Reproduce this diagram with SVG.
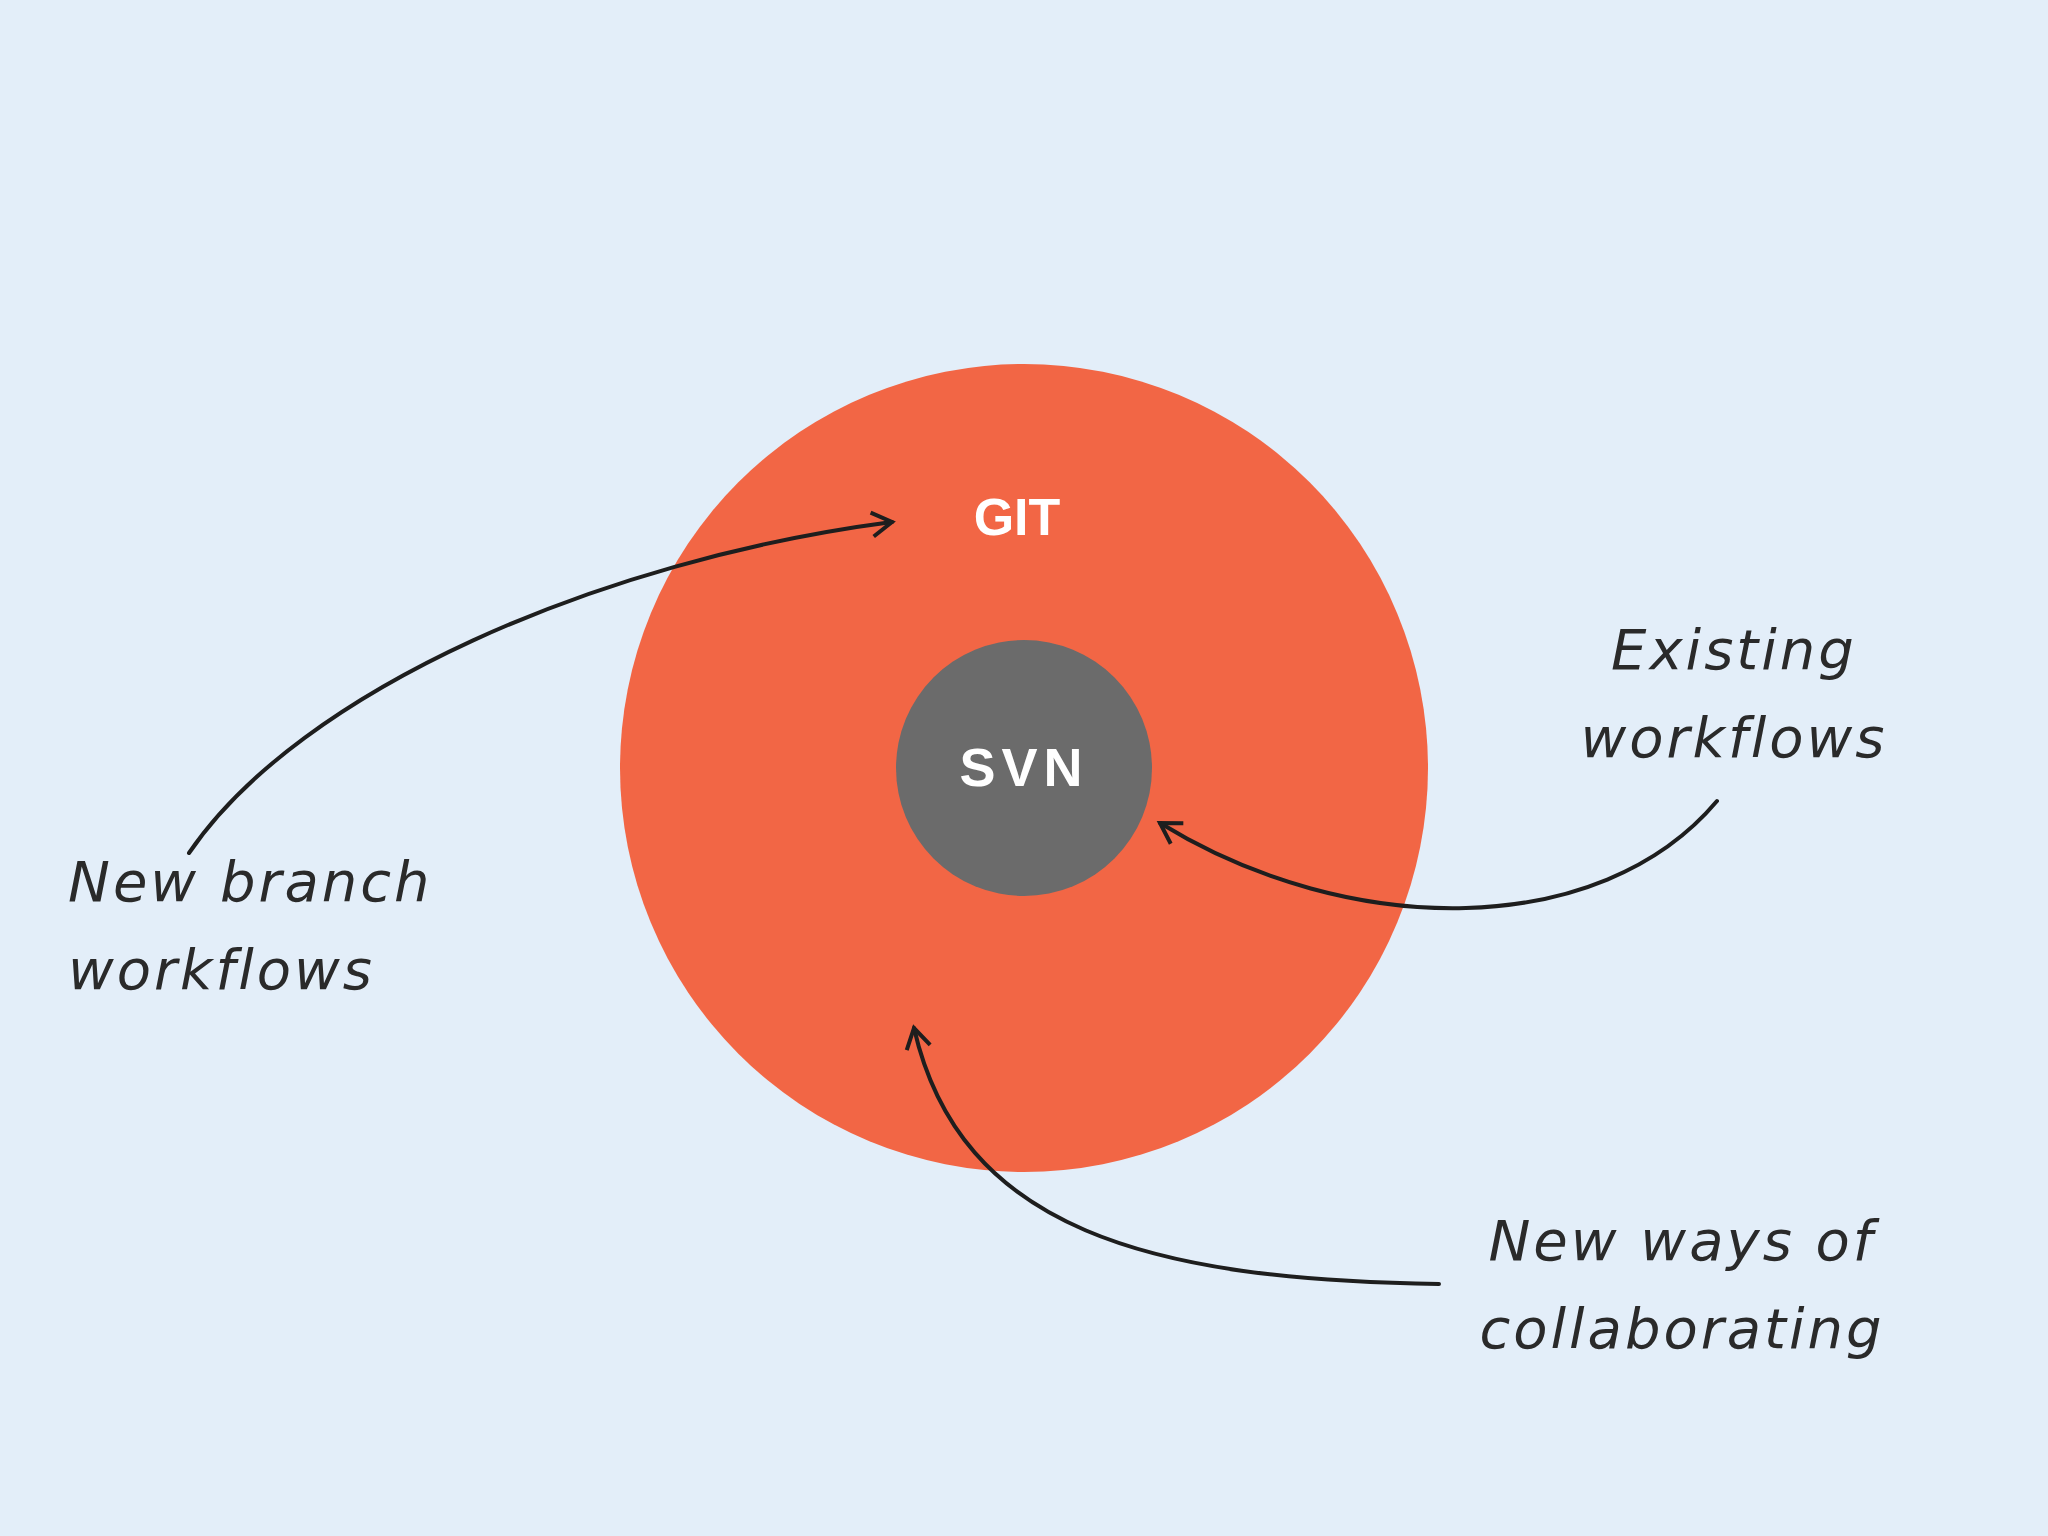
<svg xmlns="http://www.w3.org/2000/svg" width="2048" height="1536" viewBox="0 0 2048 1536">
<style>
.hand{font-family:"Comic Sans MS","DejaVu Sans",sans-serif;font-size:56px;fill:#2a2a2a;font-style:italic;letter-spacing:3px}
.lbl{font-family:"Liberation Sans",Arial,sans-serif;font-weight:bold;fill:#fff}
.arr{fill:none;stroke:#1e1e1e;stroke-width:4;stroke-linecap:round;marker-end:url(#ah)}
</style>
<defs>
<marker id="ah" markerWidth="30" markerHeight="30" refX="24" refY="15" orient="auto" markerUnits="userSpaceOnUse">
<path d="M4,3 L24,15 L4,27" fill="none" stroke="#1e1e1e" stroke-width="4"/>
</marker>
</defs>
<rect width="2048" height="1536" fill="#e3eef9"/>
<g id="git"><circle cx="1024" cy="768" r="404" fill="#f26645"/><text class="lbl" x="1017" y="535" font-size="52" text-anchor="middle">GIT</text></g>
<g id="svn"><circle cx="1024" cy="768" r="128" fill="#6b6b6b"/><text class="lbl" x="1024" y="786" font-size="54" text-anchor="middle" letter-spacing="6">SVN</text></g>
<g id="label-new-branch"><text class="hand" x="68" y="901">New branch</text><text class="hand" x="68" y="989">workflows</text></g>
<g id="label-existing"><text class="hand" x="1734" y="669" text-anchor="middle">Existing</text><text class="hand" x="1734" y="757" text-anchor="middle">workflows</text></g>
<g id="label-collab"><text class="hand" x="1682" y="1260" text-anchor="middle">New ways of</text><text class="hand" x="1682" y="1348" text-anchor="middle">collaborating</text></g>
<g id="connectors">
<path class="arr" d="M189,853 C300,690 600,560 892,522"/>
<path class="arr" d="M1717,801 C1600,940 1350,940 1160,823"/>
<path class="arr" d="M1439,1284 C1150,1280 960,1230 914,1028"/>
</g>
</svg>
